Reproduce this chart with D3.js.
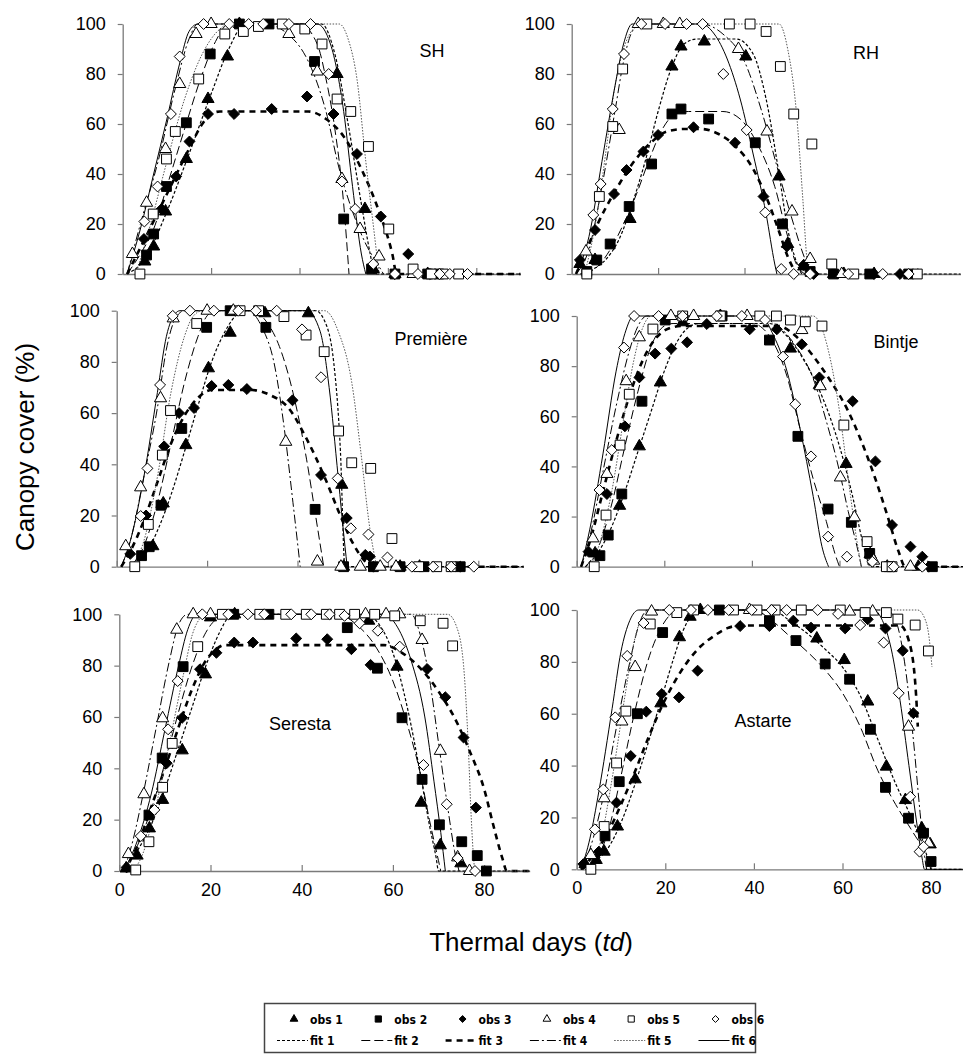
<!DOCTYPE html>
<html>
<head>
<meta charset="utf-8">
<script src="https://cdn.jsdelivr.net/npm/d3@7"></script>
<style>
body { margin: 0; background: #fff; }
svg { display: block; }
</style>
</head>
<body>
<div id="mydraw"></div>
<script>

///////////////////////////////////////////////
// data

var panelNames = ["SH", "RH", "Première", "Bintje", "Seresta", "Astarte"];
var obsNames = ["obs 1", "obs 2", "obs 3", "obs 4", "obs 5", "obs 6"];
var fitNames = ["fit 1", "fit 2", "fit 3", "fit 4", "fit 5", "fit 6"];
var xTicks = [0, 20, 40, 60, 80];
var yTicks = [0, 20, 40, 60, 80, 100];

// observed canopy cover, [td, cc]
var obsSH = [
  [[5,5],[7,11],[9.7,25],[14.4,46],[19.3,70],[23.7,87],[26.4,100],[48.5,80],[54.8,26],[56.7,2],[61.6,0],[69,0]],
  [[5.4,7.6],[7,16],[9.9,35],[14.4,60.5],[19.8,88],[26.4,100],[33.1,100],[43.4,85],[50,22],[56.3,2],[61.6,0],[69,0],[71.5,0]],
  [[4.8,14],[8.8,26],[12.1,39],[15.1,53],[19.3,64],[25.2,64],[33.7,66],[41.7,71],[47.7,64],[53,48],[58.4,23],[61.6,0],[64.6,8],[69.5,0]],
  [[2.2,8],[5.4,28.5],[9.7,50],[12.9,76],[16.6,96],[20,100],[37.6,96],[44,81],[49.6,38],[53.7,18],[58,7],[65.7,0]],
  [[3.9,0],[6.9,24],[9.9,46],[11.9,57],[17.2,78],[23.1,96],[27.3,97],[30.7,99],[36.1,100],[41.2,98],[45.1,92],[48.5,70],[51.6,65],[55.6,51],[60.2,18],[65.7,2],[69.8,0],[72.5,0],[76,0]],
  [[4.9,21],[7.9,35],[10.9,64],[12.9,87],[18.3,100],[24.1,100],[28.5,100],[31.8,100],[37.6,100],[42.5,100],[46.6,80],[49.6,37],[52.6,26],[56.7,4],[61.6,0],[66.8,0],[71.7,0],[74,0],[78,0]]
];
var obsRH = [
  [[1.9,4],[5.4,5.6],[13.5,22],[23.2,83],[25.3,91],[30.7,93],[40.3,87],[48,39],[50,12],[53.7,3],[60.6,0],[63,0],[70,0]],
  [[3.5,1],[5.8,5.6],[8.9,12],[13.3,27],[18.5,44],[23.2,64],[25.3,66],[31.7,62],[42.5,52.5],[48.8,20],[55.2,1],[60.6,0],[69,0],[78,0]],
  [[1.9,5.6],[5.4,17.6],[9.8,32],[12.7,41.6],[16.6,49],[20,55.6],[28.2,58.7],[37.8,52.5],[44.4,31],[49.8,11],[53.7,3.6],[56,0],[70,0],[76,0]],
  [[3.3,9],[11,57.6],[15.4,100],[21.2,100],[25,100],[38.6,90],[45.2,57],[51,25],[55.2,6],[62.5,0]],
  [[3.5,0],[6.4,31],[9.5,59],[11.8,82],[17.4,100],[36.5,100],[41.3,100],[45,97],[48.3,83],[51.4,64],[55.6,52],[60.2,4],[65.3,0],[80,0]],
  [[5,23.6],[6.7,36],[9.5,66],[12.1,88],[16.1,100],[21.6,100],[26.6,100],[30.3,100],[35.1,80],[40.5,57.6],[44.8,24.6],[48.5,2],[51.4,0],[55.2,0],[64,0],[72,0],[78,0]]
];
var obsPremiere = [
  [[8,8],[10.3,24.7],[15.3,47.5],[20.3,77.5],[25.1,91.4],[32.8,99],[42.4,99],[49.8,32],[50.2,0],[62.7,0],[67,0]],
  [[5.5,4.3],[7.2,7.8],[9.8,24],[14.4,54],[19.9,93.5],[25.1,100],[33,93.5],[43.9,22.4],[50.2,0],[56.8,0],[62.7,0],[68,0],[76,0]],
  [[3,5],[6.5,20],[10.5,47],[13.8,60],[17.1,62],[21,70.6],[24.7,71],[28.8,69.4],[38.9,65],[45.2,35.8],[50.9,19],[55,4.6],[56,4],[56.8,0],[76,0]],
  [[2,8],[5.3,31],[9.7,65.8],[12.5,97],[20,100],[25.8,100],[37.4,48.8],[44.4,2],[49.6,0],[53.9,0],[58.3,0],[61.8,0]],
  [[4,0],[7,16.5],[10.1,43.6],[11.9,61],[17.7,95],[27.3,100],[31.4,100],[37,97.7],[41.9,90.5],[45.9,84],[49.1,53],[52,40.6],[56.2,38.4],[60.9,11],[66.8,0],[70.8,0],[74,0]],
  [[5.3,19.8],[6.8,38.4],[9.6,71],[12.4,98],[16.2,100],[21.5,100],[26.9,100],[30.8,100],[35.4,100],[41,92.7],[45.2,74],[48.9,34.5],[51.8,15],[55.7,12.6],[59.9,3.6],[65.3,0],[70,0],[74,0],[79,0]]
];
var obsBintje = [
  [[4.2,5.3],[9.8,24.3],[14.3,48],[19.1,73.5],[24.2,97.5],[32.8,100],[48.8,87],[55.4,72.5],[61.5,41],[67,5],[70.9,0],[78,0]],
  [[5.3,4.4],[7.2,12.6],[10.3,29],[14.9,66],[20.2,98.4],[33.2,100],[44,90.4],[50.5,52],[57.4,23],[62.7,17.7],[66.9,5.3],[71.3,0],[81.2,0]],
  [[2.7,6],[6.9,29],[11,56],[14.3,75.5],[17.9,85],[21.6,87],[25.2,89.5],[29.7,96.8],[39.5,94.7],[45.7,94.7],[51.4,88.7],[55.4,75.5],[63,66],[68.2,42],[72,16.6],[76.2,8],[78.9,4],[80.4,0]],
  [[3.7,11.3],[6.9,37],[11.3,74],[14.3,91.5],[21.5,100],[26.7,100],[38.9,100],[51.4,94.4],[55.6,72],[60.2,35.6],[63.4,19.7],[67.8,2.4],[76.2,0]],
  [[4,0],[6.7,20.6],[9.9,48.5],[12,68.8],[17.4,94.8],[24.2,100],[32.8,100],[41.8,100],[45.6,100],[48.8,98.4],[52.2,97.7],[56,96],[61,56.5],[66.3,10],[70.7,0],[72,0]],
  [[5.2,30.6],[8,46.5],[10.8,87.4],[13.1,100],[18.7,100],[24.2,100],[32,100],[37.7,100],[43,98.4],[47.1,83.8],[49.9,64.8],[53.5,44],[57.4,12],[61.7,4],[67.5,2],[72.4,0],[78.9,0]]
];
var obsSeresta = [
  [[1.5,1],[3.9,6],[6.6,16.6],[9.5,27.7],[13.8,47],[18.9,76.6],[20,98.8],[25.3,100],[54.7,97.5],[60.9,79.6],[66.2,26.6],[70.4,10],[74.9,3]],
  [[6.5,21.8],[9.4,44],[14,79.6],[25.1,100],[32.8,100],[50,94.8],[56.6,79],[62,59.7],[66.4,35.7],[70.2,18],[75.1,11.4],[78.5,6],[80.5,0]],
  [[1.6,1.4],[10.4,42],[13.8,59.7],[17.7,78.6],[21.3,85],[25.2,89],[29.3,89],[38.8,90.6],[45.6,90.3],[50.9,86.4],[55.1,80.3],[67.5,78.7],[71.5,67.7],[75.5,52],[78.2,24.7]],
  [[2,6.6],[5.4,29.9],[9.5,59.5],[12.6,94],[16.2,100],[20,100],[54,100],[58.5,100],[61.5,100],[66.4,90],[70.4,46.8],[74.2,5.3],[76.8,0]],
  [[3.6,0.4],[6.5,11.4],[9.5,32.6],[11.6,49.7],[17.2,87.4],[22.6,100],[30.8,100],[36.5,100],[41,100],[45.4,100],[48.3,100],[51.6,100],[56,100],[60.4,99.4],[66,97.5],[71,96.5],[73.1,87.7]],
  [[4.7,13.6],[7.7,23.8],[10.7,55.2],[12.8,74],[18.2,100],[23.9,100],[28.2,100],[31.8,100],[37.7,100],[42.1,100],[46.1,100],[49.4,99.4],[52.7,96.5],[56.7,93.6],[61.5,87.4],[66.7,41.3],[71.8,26],[74.2,5],[78,0]]
];
var obsAstarte = [
  [[1.9,2],[4.4,3.6],[6.2,6.8],[9.2,16.5],[13.2,34.7],[19,64],[23.2,89.5],[25.6,97.4],[27.9,100],[54.2,89],[60.4,80.7],[65.7,64.7],[69.9,39.6],[74.2,26.7],[77.9,15.8],[79.8,9.6]],
  [[6.4,12.9],[9.6,33.8],[13.7,60],[19.4,91.3],[32.2,100],[43.5,95.9],[49.5,88.2],[56.1,79.2],[61.6,73.3],[66.3,54],[69.7,31.6],[74.9,19.7],[78.3,13.9],[80,3]],
  [[1.5,2],[5,6.8],[9,25.7],[12.2,43.7],[15.7,60.8],[19.2,67.6],[23.1,66.3],[27.3,76.6],[36.9,93.8],[43.5,93.8],[48.9,95.9],[52.9,93.2],[60.6,92.9],[65.7,96.4],[69.7,92.9],[73.6,84.3],[76,60.2]],
  [[3.2,5.5],[6.2,27.4],[10.2,57],[13.2,78],[16.9,99.4],[39,100],[61.6,99.4],[66.8,99.4],[74.9,55],[79.4,10]],
  [[3.2,0],[6.2,16.5],[9,41],[11.1,61],[16.6,94.6],[22.6,99],[26.4,100],[35.4,100],[40.7,100],[44.8,100],[50.7,100],[59.5,100],[65.1,99],[69.9,99],[72.5,96.5],[76.4,94.2],[79.4,84.2]],
  [[4.1,15.4],[6,30.8],[8.7,58.6],[11.4,82.3],[15.1,95],[20.9,100],[25.8,100],[29.6,100],[34.3,100],[39.5,100],[44,100],[47.4,100],[54.4,100],[59,98.5],[64,94.2],[69.3,87.4],[72.7,67.9],[75.3,28],[77.4,6.8],[78.3,8.7]]
];

// fitted curves, key points, [td, cc]
var fitSH = [
  [[1,0],[5,6],[10,25],[15,48],[20,72],[24,90],[27,99],[29,100],[45,100],[48,88],[51,60],[54,28],[56,8],[57,0],[90,0]],
  [[1,0],[4,8],[7,18],[10,35],[14,58],[18,80],[21,93],[24,100],[40,100],[44,92],[46,78],[48,58],[50,28],[51.2,0]],
  [[1,0],[5,14],[10,32],[15,50],[18,60],[20,64],[22,65],[42,65],[46,62],[50,55],[54,42],[58,25],[61,8],[62,0],[90,0]],
  [[1,0],[4,20],[8,45],[12,75],[15,94],[17,100],[32,100],[38,95],[42,85],[46,65],[49,42],[52,25],[55,12],[58,3],[59,0]],
  [[3,0],[6,18],[10,45],[14,70],[18,88],[22,98],[24,100],[49,100],[51,94],[53,78],[55,45],[57,15],[58,0]],
  [[1,0],[4,18],[7,40],[10,62],[13,85],[15,97],[17,100],[44,100],[47,92],[50,65],[52,35],[54,8],[55,0]]
];
var fitRH = [
  [[2,0],[5,2],[8,6],[11,14],[14,28],[17,45],[20,65],[23,82],[26,92],[29,94],[38,94],[42,88],[45,70],[48,40],[50,18],[52,5],[53.5,0],[90,0]],
  [[3,0],[6,3],[9,10],[12,20],[15,32],[18,46],[21,58],[24,64],[27,65],[35,65],[39,62],[43,52],[47,35],[50,15],[52,4],[54,0]],
  [[1,0],[3,8],[6,20],[10,33],[14,44],[18,52],[22,57],[26,58],[30,58],[34,56],[38,51],[42,42],[45,31],[48,17],[50,7],[52,0]],
  [[1,0],[4,10],[7,35],[10,65],[12,85],[14,97],[16,100],[30,100],[35,96],[40,85],[44,65],[48,40],[51,22],[54,6],[55.5,0]],
  [[3,0],[6,25],[8,50],[10,75],[12,90],[15,99],[17,100],[48,100],[50,90],[52,65],[53.5,30],[54.5,5],[55,0]],
  [[1,0],[4,15],[7,45],[10,75],[12,92],[14,100],[30,100],[33,96],[36,86],[39,70],[42,48],[45,24],[47,4],[47.5,0]]
];
var fitPremiere = [
  [[3,0],[6,4],[9,14],[12,28],[15,45],[18,63],[21,80],[24,92],[27,99],[29,100],[44,100],[46,96],[48,80],[49.5,45],[50.5,0],[90,0]],
  [[3,0],[6,8],[9,25],[12,48],[15,72],[18,90],[20,98],[22,100],[30,100],[33,96],[36,86],[39,68],[42,42],[44,20],[45.8,0]],
  [[1,0],[3,6],[6,18],[9,33],[12,48],[15,59],[18,66],[21,69],[30,69],[34,67],[38,62],[42,50],[46,35],[49,22],[52,10],[55,2],[56.5,0],[90,0]],
  [[1,0],[3,10],[6,35],[9,62],[11,85],[13,97],[15,100],[29,100],[32,94],[35,78],[37,55],[39,25],[40.6,0]],
  [[3,0],[6,10],[9,35],[12,68],[15,90],[17,98],[19,100],[46,100],[49,92],[52,72],[54,45],[56,15],[57.5,0]],
  [[1,0],[3,10],[6,35],[9,68],[11,90],[13,99],[14,100],[42,100],[45,92],[47,70],[49,35],[50.5,8],[51,0]]
];
var fitBintje = [
  [[2,0],[5,6],[8,16],[11,30],[14,46],[17,62],[20,78],[23,90],[26,96],[28,97],[44,97],[48,92],[52,82],[56,68],[60,48],[63,28],[65,12],[66.5,2],[67,0],[90,0]],
  [[2,0],[5,8],[8,25],[11,48],[14,70],[17,88],[20,96],[22,97],[40,97],[44,92],[48,76],[51,55],[54,35],[57,18],[59,5],[60,0]],
  [[1,0],[3,10],[6,30],[9,50],[12,68],[15,82],[18,91],[21,95],[24,96],[46,96],[50,92],[54,84],[58,74],[62,62],[65,50],[68,36],[71,20],[73.5,6],[75,0],[90,0]],
  [[1,0],[3,12],[6,38],[9,64],[12,86],[14,96],[16,100],[40,100],[46,96],[50,88],[54,75],[57,58],[60,38],[62,22],[64,8],[65,0]],
  [[3,0],[5,8],[8,30],[11,62],[13,82],[15,95],[17,100],[54,100],[56,95],[58,82],[60,62],[62,35],[64,10],[65,0]],
  [[1,0],[3,15],[6,45],[9,78],[11,93],[13,100],[42,100],[45,92],[48,78],[51,55],[54,28],[56,8],[57.5,0]]
];
var fitSeresta = [
  [[1,0],[4,8],[7,18],[10,32],[13,48],[16,64],[19,80],[22,93],[24,99],[25,100],[54,100],[57,96],[60,85],[63,65],[66,38],[68,18],[69.5,5],[70,0],[90,0]],
  [[1,0],[4,10],[7,24],[10,42],[13,62],[16,80],[19,93],[22,99],[24,100],[48,100],[52,96],[56,88],[60,74],[63,58],[66,38],[68,20],[70,4],[70.5,0]],
  [[1,0],[4,10],[7,25],[10,40],[13,56],[16,71],[19,82],[21,86],[23,88],[58,88],[62,85],[66,79],[70,70],[74,58],[77,46],[80,32],[82,18],[84,5],[85,0],[90,0]],
  [[1,0],[3,12],[5,28],[8,55],[11,82],[13,96],[15,100],[64,100],[66,92],[68,75],[70,50],[72,25],[73.5,8],[74.5,0]],
  [[3,0],[5,6],[8,25],[11,50],[14,76],[16,92],[18,99],[19,100],[72,100],[74,95],[75.5,80],[76.5,50],[77.2,20],[77.7,5],[78,0],[90,0]],
  [[1,0],[4,12],[7,30],[10,55],[13,80],[15,94],[17,100],[58,100],[61,95],[64,82],[67,60],[69,35],[70.5,15],[71.5,0]]
];
var fitAstarte = [
  [[1,0],[4,3],[7,8],[10,18],[13,32],[16,48],[19,65],[22,82],[24,92],[26,98],[28,100],[44,100],[48,96],[52,91],[56,85],[60,78],[64,67],[68,50],[72,33],[75,22],[78,10],[79.5,3],[80,0],[90,0]],
  [[2,0],[4,3],[7,14],[10,36],[13,60],[16,80],[19,93],[21,98],[23,100],[40,100],[44,96],[48,90],[52,84],[56,77],[60,68],[64,55],[68,38],[72,25],[76,14],[79,5],[80,0]],
  [[1,0],[4,6],[7,14],[10,25],[13,37],[16,50],[19,62],[22,72],[25,80],[28,86],[31,90],[34,93],[37,94],[73,94],[75,88],[76.5,70],[77,55]],
  [[1,0],[3,8],[6,28],[9,55],[12,80],[14,94],[16,100],[70,100],[72,96],[74,80],[76,50],[77.5,22],[78.5,5],[79,0]],
  [[3,0],[5,8],[8,35],[11,68],[13,88],[15,98],[17,100],[77,100],[78.5,97],[79.5,90],[80.2,78]],
  [[1,0],[3,12],[5,30],[8,62],[10,84],[12,96],[14,100],[67,100],[69,96],[71,85],[73,65],[75,40],[77,15],[78,4],[78.5,0],[90,0]]
];

var obsData = [obsSH, obsRH, obsPremiere, obsBintje, obsSeresta, obsAstarte];
var fitData = [fitSH, fitRH, fitPremiere, fitBintje, fitSeresta, fitAstarte];


///////////////////////////////////////////////
// layout & styles

var W = 963, H = 1057;

// panel boxes: x of td=0, px per td, y of cc=100 and cc=0, title pos
var layout = [
  { x0: 122.7, k: 4.42, yT: 24,    yB: 274,   lab: false, tx: 432, ty: 57 },
  { x0: 571.7, k: 4.32, yT: 24,    yB: 274,   lab: false, tx: 866, ty: 59 },
  { x0: 116.7, k: 4.52, yT: 310.7, yB: 566.7, lab: false, tx: 431, ty: 345 },
  { x0: 576.7, k: 4.38, yT: 316,   yB: 566.7, lab: false, tx: 896, ty: 348 },
  { x0: 119.3, k: 4.56, yT: 614.3, yB: 871,   lab: true,  tx: 300, ty: 730 },
  { x0: 576.7, k: 4.43, yT: 610,   yB: 869.3, lab: true,  tx: 763, ty: 727 }
];

var fitStyle = [
  { dash: "3,2",      w: 1.2, c: "#000" },
  { dash: "9,4",      w: 1,   c: "#000" },
  { dash: "6,5",      w: 2.6, c: "#000" },
  { dash: "9,3,2,3",  w: 1,   c: "#000" },
  { dash: "1.5,1.5",  w: 1,   c: "#555" },
  { dash: null,       w: 1,   c: "#000" }
];

var diamond = d3.symbolDiamond2 || d3.symbolDiamond;
var markType = [d3.symbolTriangle, d3.symbolSquare, diamond, d3.symbolTriangle, d3.symbolSquare, diamond];
var markSize = [64, 96, 76, 64, 96, 76];
var markFill = ["#000", "#000", "#000", "#fff", "#fff", "#fff"];

var font = "'Liberation Sans', Arial, Helvetica, sans-serif";


///////////////////////////////////////////////
// draw

var svg = d3.select("div#mydraw").append("svg")
    .attr("width", W)
    .attr("height", H)
    .style("background", "#fff");

panelNames.forEach(function(name, p) {

    var L = layout[p];
    var x = d3.scaleLinear().domain([0, 90]).range([L.x0, L.x0 + 90 * L.k]);
    var y = d3.scaleLinear().domain([0, 100]).range([L.yB, L.yT]);

    var g = svg.append("g");

    // ---------------
    // axes
    var ax = g.append("g")
        .attr("transform", "translate(0," + L.yB + ")")
        .call(d3.axisBottom(x)
            .tickValues(xTicks)
            .tickSize(-6)
            .tickSizeOuter(0)
            .tickPadding(12)
            .tickFormat(L.lab ? d3.format("d") : function() { return ""; }));

    var ay = g.append("g")
        .attr("transform", "translate(" + L.x0 + ",0)")
        .call(d3.axisLeft(y)
            .tickValues(yTicks)
            .tickSize(5)
            .tickSizeOuter(0)
            .tickPadding(12));

    [ax, ay].forEach(function(a) {
        a.select(".domain").attr("stroke", "#7a7a7a").attr("stroke-width", 1.3);
        a.selectAll(".tick line").attr("stroke", "#7a7a7a").attr("stroke-width", 1.2);
        a.selectAll(".tick text")
            .attr("fill", "#000")
            .style("font-family", font)
            .style("font-size", "18px");
    });

    // ---------------
    // fitted curves
    var line = d3.line()
        .x(function(d) { return x(d[0]); })
        .y(function(d) { return y(d[1]); })
        .curve(d3.curveMonotoneX);

    fitData[p].forEach(function(pts, s) {
        var st = fitStyle[s];
        g.append("path")
            .datum(pts)
            .attr("d", line)
            .attr("fill", "none")
            .attr("stroke", st.c)
            .attr("stroke-width", st.w)
            .attr("stroke-dasharray", st.dash);
    });

    // ---------------
    // observations
    obsData[p].forEach(function(pts, s) {
        var sym = d3.symbol().type(markType[s]).size(markSize[s]);
        g.selectAll(null)
            .data(pts)
            .enter()
            .append("path")
            .attr("d", sym)
            .attr("transform", function(d) {
                return "translate(" + x(d[0]) + "," + y(d[1]) + ")";
            })
            .attr("fill", markFill[s])
            .attr("stroke", "#000")
            .attr("stroke-width", 1);
    });

    // ---------------
    // panel title
    g.append("text")
        .attr("x", L.tx)
        .attr("y", L.ty)
        .attr("text-anchor", "middle")
        .style("font-family", font)
        .style("font-size", "18px")
        .text(name);
});


///////////////////////////////////////////////
// axis titles

svg.append("text")
    .attr("transform", "translate(34,447) rotate(-90)")
    .attr("text-anchor", "middle")
    .style("font-family", font)
    .style("font-size", "26px")
    .text("Canopy cover (%)");

var xt = svg.append("text")
    .attr("x", 531)
    .attr("y", 951)
    .attr("text-anchor", "middle")
    .style("font-family", font)
    .style("font-size", "26px");
xt.append("tspan").text("Thermal days (");
xt.append("tspan").style("font-style", "italic").text("td");
xt.append("tspan").text(")");


///////////////////////////////////////////////
// legend

var lg = svg.append("g");
var lgFont = "'Liberation Sans Narrow', 'Arial Narrow', 'DejaVu Sans Condensed', sans-serif";

lg.append("rect")
    .attr("x", 264.5)
    .attr("y", 1003.5)
    .attr("width", 491)
    .attr("height", 49)
    .attr("fill", "#fff")
    .attr("stroke", "#444")
    .attr("stroke-width", 1.5);

var lgStep = 84.3;

obsNames.forEach(function(nm, s) {
    var mx = 294 + s * lgStep;
    lg.append("path")
        .attr("d", d3.symbol().type(markType[s]).size(markSize[s] * 0.4))
        .attr("transform", "translate(" + mx + ",1019)")
        .attr("fill", markFill[s])
        .attr("stroke", "#000")
        .attr("stroke-width", 1);
    lg.append("text")
        .attr("x", mx + 16)
        .attr("y", 1023.5)
        .style("font-family", lgFont)
        .style("font-weight", "bold")
        .style("font-size", "12px")
        .text(nm);
});

fitNames.forEach(function(nm, s) {
    var tx = 310 + s * lgStep;
    var st = fitStyle[s];
    lg.append("line")
        .attr("x1", tx - 33)
        .attr("x2", tx - 2)
        .attr("y1", 1040.5)
        .attr("y2", 1040.5)
        .attr("stroke", st.c)
        .attr("stroke-width", s == 2 ? 2.5 : st.w)
        .attr("stroke-dasharray", st.dash);
    lg.append("text")
        .attr("x", tx)
        .attr("y", 1045)
        .style("font-family", lgFont)
        .style("font-weight", "bold")
        .style("font-size", "12px")
        .text(nm);
});

</script>
</body>
</html>
